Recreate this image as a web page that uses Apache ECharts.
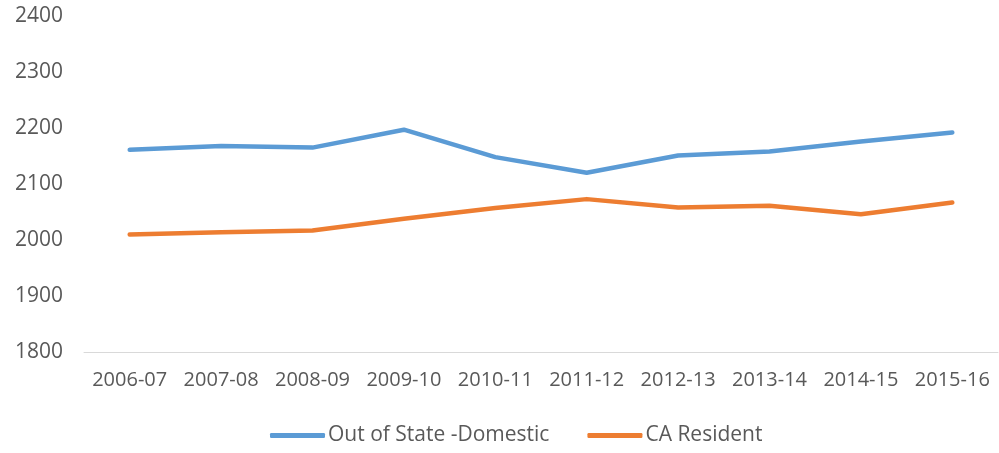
<!DOCTYPE html>
<html><head><meta charset="utf-8">
<script src="https://cdn.jsdelivr.net/npm/echarts@6/dist/echarts.min.js"></script>
<style>html,body{margin:0;padding:0;background:#fff}#c{width:999px;height:453px}</style>
</head><body><div id="c"></div>
<script>
const categories = ["2006-07","2007-08","2008-09","2009-10","2010-11","2011-12","2012-13","2013-14","2014-15","2015-16"];
const outOfState = [2161, 2168, 2165, 2197, 2148, 2120, 2151, 2158, 2176, 2192];
const caResident = [2010, 2014, 2017, 2038, 2057, 2073, 2058, 2061, 2046, 2067];
const seriesNames = ["Out of State -Domestic", "CA Resident"];

const font = "'Open Sans', 'Liberation Sans', sans-serif";
const chart = echarts.init(document.getElementById('c'), null, {renderer:'canvas'});
chart.setOption({
  animation:false,
  grid:{left:84, right:1, top:16, bottom:101, containLabel:false},
  legend:{
    top:420, left:265, itemWidth:55, itemHeight:5, itemGap:38,
    icon:'roundRect',
    textStyle:{color:'#595959', fontSize:21, fontFamily:font, padding:[0,0,0,-2]},
    data:seriesNames
  },
  xAxis:{
    type:'category', data:categories, boundaryGap:true,
    axisLine:{lineStyle:{color:'#d9d9d9', width:1}},
    axisTick:{show:false},
    axisLabel:{color:'#595959', fontSize:20, fontFamily:font, margin:18, interval:0, hideOverlap:false}
  },
  yAxis:{
    type:'value', min:1800, max:2400, interval:100,
    axisLine:{show:false}, axisTick:{show:false},
    splitLine:{show:false},
    axisLabel:{color:'#595959', fontSize:21, fontFamily:font, margin:21, formatter:(v)=>String(v)}
  },
  series:[
    {name:seriesNames[0], type:'line', data:outOfState, symbol:'none',
     lineStyle:{color:'#5B9BD5', width:4.5, cap:'round', join:'round'}, itemStyle:{color:'#5B9BD5'}},
    {name:seriesNames[1], type:'line', data:caResident, symbol:'none',
     lineStyle:{color:'#ED7D31', width:4.5, cap:'round', join:'round'}, itemStyle:{color:'#ED7D31'}}
  ]
});
</script></body></html>
